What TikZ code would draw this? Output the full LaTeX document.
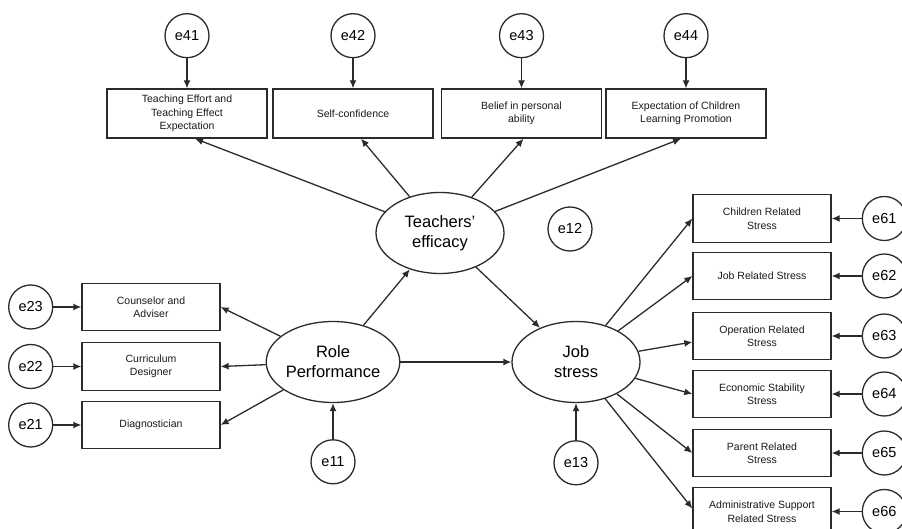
\documentclass[tikz,border=0pt]{standalone}
\usepackage{fontspec}
\setmainfont{Liberation Sans}
\usepackage{xcolor}
\usetikzlibrary{arrows.meta, positioning, shapes.geometric}
\definecolor{LineGray}{HTML}{2B2B2B}
\definecolor{BoxText}{HTML}{1A1A1A}

\begin{document}
\begin{tikzpicture}[
        x=1pt, y=-1pt,
        node distance=30pt,
        ind/.style={
          rectangle, draw=LineGray, fill=white,
          line width=1.3pt, align=center, inner sep=2pt,
          font=\fontsize{10.5}{13.5}\selectfont\color{BoxText}
        },
        topind/.style={ind, minimum width=160pt, minimum height=49pt},
        sideind/.style={ind, minimum width=138pt, minimum height=47.5pt},
        latent/.style={
          ellipse, draw=LineGray, fill=white,
          line width=1.3pt, align=center, inner sep=0pt,
          minimum width=128pt, minimum height=81pt,
          font=\fontsize{16.5}{20}\selectfont
        },
        err/.style={
          circle, draw=LineGray, fill=white,
          line width=1.3pt, inner sep=0pt, minimum size=44pt,
          font=\fontsize{14.5}{16}\selectfont
        },
        arr/.style={-{Latex[length=8pt, width=7pt]}, LineGray, line width=1.3pt}
      ]
      \useasboundingbox (0,0) rectangle (902,529);

      % latent variables
      \node[latent] (te) at (440,233) {Teachers'\\efficacy};
      \node[latent] (rp) at (333,362) {Role\\Performance};
      \node[latent] (js) at (576,362) {Job\\stress};

      % teachers' efficacy indicators
      \node[topind] (tee) at (187,113.5) {Teaching Effort and\\Teaching Effect\\Expectation};
      \node[topind] (sc)  at (353,113.5) {Self-confidence};
      \node[topind] (bpa) at (521.5,113.5) {Belief in personal\\ability};
      \node[topind] (ecl) at (686,113.5) {Expectation of Children\\Learning Promotion};
      \node[err, above=of tee] (e41) {e41};
      \node[err, above=of sc]  (e42) {e42};
      \node[err, above=of bpa] (e43) {e43};
      \node[err, above=of ecl] (e44) {e44};

      % role performance indicators
      \node[sideind] (cou) at (151,307) {Counselor and\\Adviser};
      \node[sideind] (cur) at (151,366.5) {Curriculum\\Designer};
      \node[sideind] (dia) at (151,425) {Diagnostician};
      \node[err, left=28pt of cou] (e23) {e23};
      \node[err, left=28pt of cur] (e22) {e22};
      \node[err, left=28pt of dia] (e21) {e21};

      % job stress indicators
      \node[sideind] (crs) at (762,218.5) {Children Related\\Stress};
      \node[sideind] (jrs) at (762,276) {Job Related Stress};
      \node[sideind] (ors) at (762,336) {Operation Related\\Stress};
      \node[sideind] (ess) at (762,394) {Economic Stability\\Stress};
      \node[sideind] (prs) at (762,453) {Parent Related\\Stress};
      \node[sideind] (ars) at (762,511.5) {Administrative Support\\Related Stress};
      \node[err, right=of crs] (e61) {e61};
      \node[err, right=of jrs] (e62) {e62};
      \node[err, right=of ors] (e63) {e63};
      \node[err, right=of ess] (e64) {e64};
      \node[err, right=of prs] (e65) {e65};
      \node[err, right=of ars] (e66) {e66};

      % disturbances
      \node[err] (e12) at (570,229) {e12};
      \node[err, below=36pt of rp] (e11) {e11};
      \node[err, below=37pt of js] (e13) {e13};

      % structural paths
      \draw[arr] (rp) -- (te);
      \draw[arr] (rp) -- (js);
      \draw[arr] (te) -- (js);
      \draw[arr] (e11) -- (rp);
      \draw[arr] (e13) -- (js);

      % loadings
      \draw[arr] (te) -- ([xshift=8pt]tee.south);
      \draw[arr] (te) -- ([xshift=8pt]sc.south);
      \draw[arr] (te) -- ([xshift=2pt]bpa.south);
      \draw[arr] (te) -- ([xshift=-5pt]ecl.south);
      \draw[arr] (rp) -- (cou.east);
      \draw[arr] (rp) -- (cur.east);
      \draw[arr] (rp) -- (dia.east);
      \draw[arr] (js) -- (crs.west);
      \draw[arr] (js) -- (jrs.west);
      \draw[arr] (js) -- ([yshift=-6pt]ors.west);
      \draw[arr] (js) -- (ess.west);
      \draw[arr] (js) -- (prs.west);
      \draw[arr] (js) -- ([yshift=3pt]ars.west);

      % measurement errors
      \draw[arr] (e41) -- (tee);
      \draw[arr] (e42) -- (sc);
      \draw[arr] (e43) -- (bpa);
      \draw[arr] (e44) -- (ecl);
      \draw[arr] (e23) -- (cou);
      \draw[arr] (e22) -- (cur);
      \draw[arr] (e21) -- (dia);
      \draw[arr] (e61) -- (crs);
      \draw[arr] (e62) -- (jrs);
      \draw[arr] (e63) -- (ors);
      \draw[arr] (e64) -- (ess);
      \draw[arr] (e65) -- (prs);
      \draw[arr] (e66) -- (ars);
    \end{tikzpicture}
\end{document}
